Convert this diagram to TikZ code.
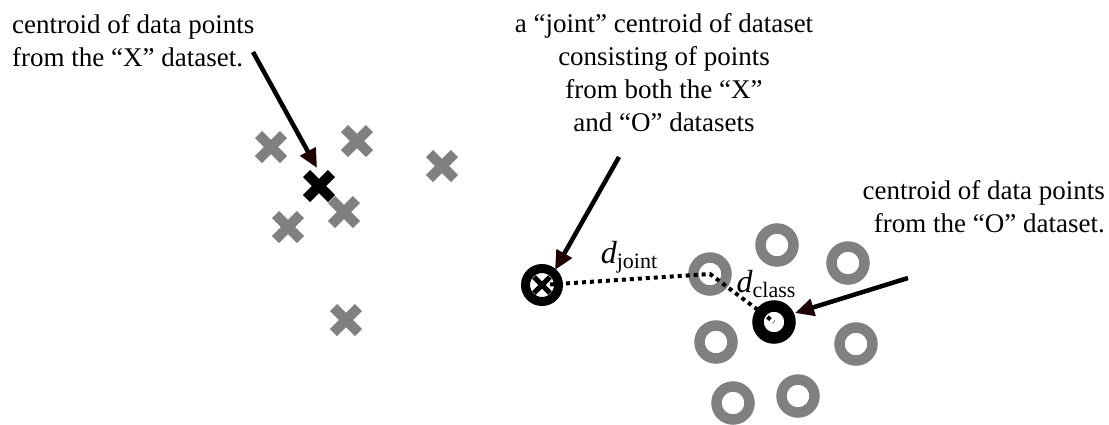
\documentclass[tikz,border=0pt]{standalone}
\usepackage{fontspec}
\setmainfont{Liberation Serif}
\usetikzlibrary{arrows.meta,calc}
\definecolor{ptgray}{RGB}{128,128,128}
\definecolor{tipred}{RGB}{30,0,0}
\tikzset{
  lbl/.style={font=\fontsize{27}{33}\selectfont, inner sep=0pt, align=#1},
  xmark/.style={line width=10pt, draw=ptgray},
  omark/.style={line width=10.5pt, draw=ptgray},
  callout/.style={line width=4.5pt, -{Triangle[length=19pt,width=17pt,fill=tipred,color=tipred]}},
  dist/.style={line width=4pt, dash pattern=on 4pt off 4pt},
  dlabel/.style={anchor=base, inner sep=0pt},
}
\newcommand{\dlab}[1]{{\fontsize{32}{36}\selectfont\itshape d}\raisebox{-5pt}{\fontsize{22}{26}\selectfont #1}}
\newcommand{\xm}[3]{%
  \draw[#3] ($(#1,#2)+(-12.5,-12.5)$) -- ($(#1,#2)+(12.5,12.5)$);
  \draw[#3] ($(#1,#2)+(-12.5,12.5)$) -- ($(#1,#2)+(12.5,-12.5)$);}
\begin{document}
\begin{tikzpicture}[x=1pt,y=-1pt]
\useasboundingbox (0,0) rectangle (1109,424);
% text
\node[lbl=left, anchor=base west] (tx) at (12,66) {centroid of data points\\from the “X” dataset.};
\node[lbl=center, anchor=base] (tj) at (664,131) {a “joint” centroid of dataset\\consisting of points\\from both the “X”\\and “O” datasets};
\node[lbl=right, anchor=base east] (to) at (1105,232) {centroid of data points\\from the “O” dataset.};
% X points
\foreach \p/\q in {271/147, 357/141, 442/166, 344/212, 288/227, 346/320}{
  \xm{\p}{\q}{xmark}
}
\coordinate (cx) at (319,186);
\xm{319}{186}{xmark,draw=black}
% O points
\foreach \p/\q in {777/245, 848/263, 716/342, 856/344, 733/403, 798/396}{
  \draw[omark] (\p,\q) circle (16.5);
}
\draw[omark] (710,274) circle (16.5);
\coordinate (ko) at (710,274);
% class centroid
\coordinate (co) at (774,322);
\draw[line width=11.5pt] (co) circle (16);
% joint centroid
\coordinate (cj) at (542,285);
\draw[line width=9pt] (cj) circle (16.5);
\draw[line width=5pt] ($(cj)+(-8,-8)$) -- ($(cj)+(8,8)$);
\draw[line width=5pt] ($(cj)+(-8,8)$) -- ($(cj)+(8,-8)$);
% distances
\draw[dist] (cj) -- (ko) -- (co);
\node[dlabel] (dj) at (629,263) {\dlab{joint}};
\node[dlabel] (dc) at (766,292) {\dlab{class}};
% callouts
\coordinate (ax) at (253,52);
\coordinate (aj) at (619,157);
\coordinate (ao) at (908,278);
\draw[callout] (ax) -- (317,168);
\draw[callout] (aj) -- (555,270);
\draw[callout] (ao) -- (795,313);
\end{tikzpicture}
\end{document}
